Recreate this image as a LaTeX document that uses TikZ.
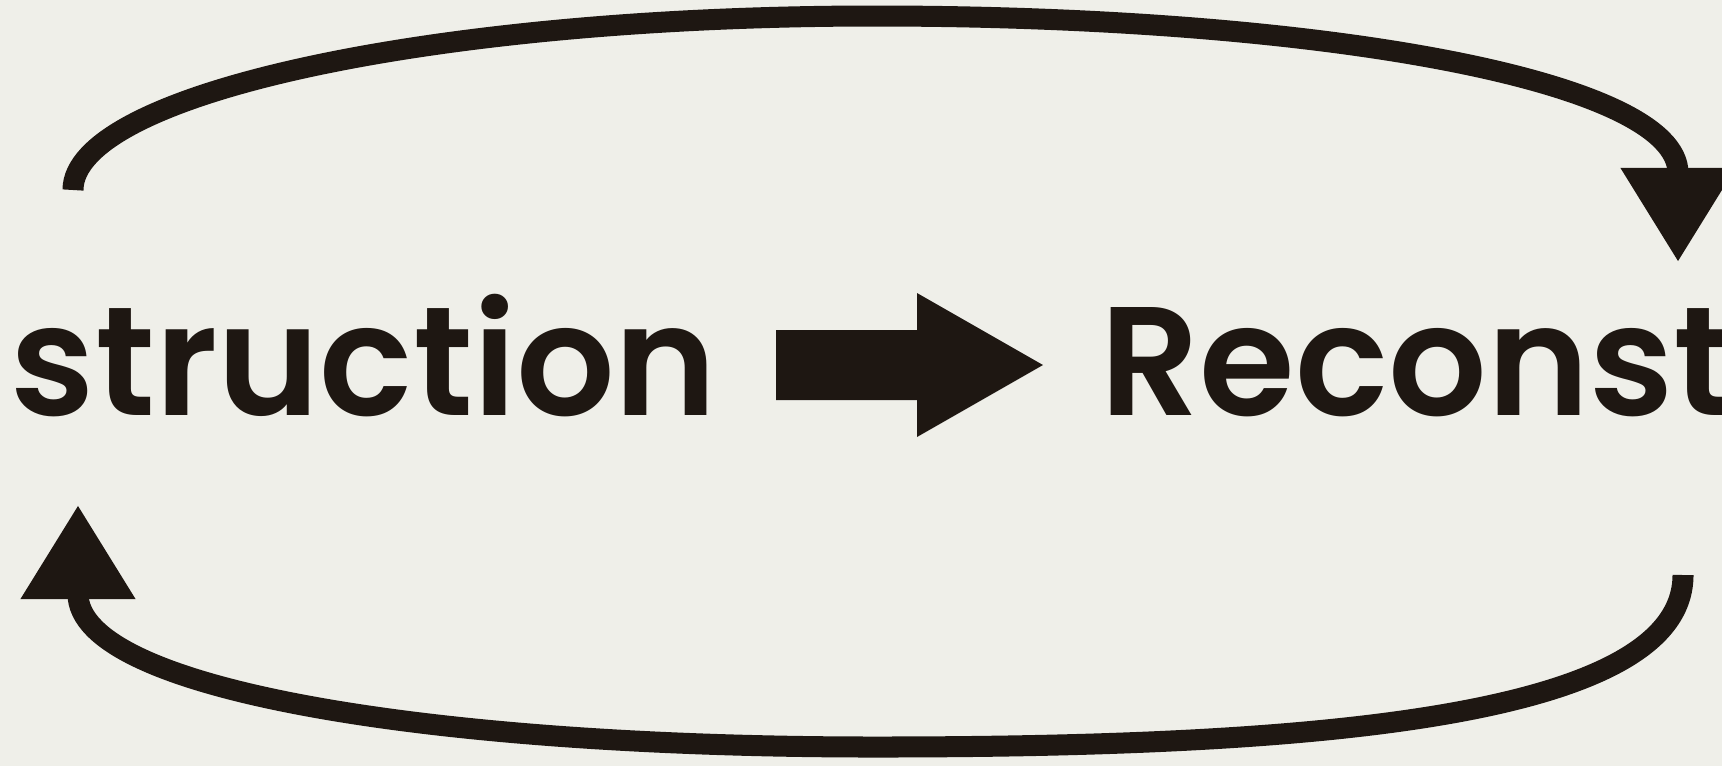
\documentclass[tikz,border=0pt]{standalone}
\usepackage{fontspec}
\setmainfont{Poppins}
\newfontfamily\wordfont{Poppins SemiBold}
\usepackage{tikz}
\usetikzlibrary{arrows.meta, calc}
\definecolor{paper}{RGB}{239, 239, 233}
\definecolor{ink}{RGB}{30, 23, 18}

\begin{document}
\begin{tikzpicture}[x=0.01cm, y=-0.01cm, font=\wordfont\fontsize{44}{50}\selectfont,
    >={Triangle[width=1.09cm, length=0.94cm]}]
  \useasboundingbox (0,0) rectangle (1722,766);
  \clip (0,0) rectangle (1722,766);
  \fill[paper] (0,0) rectangle (1722,766);
  % the two words
  \node[ink, inner sep=0, anchor=base west] (destr) at (10,415) {struction};
  \node[ink, inner sep=0, anchor=base west] (recon) at (1100,415) {Reconst};
  % block arrow between them
  \fill[ink] (776,330) -- (917,330) -- (917,293) -- (1043,365)
        -- (917,437) -- (917,400) -- (776,400) -- cycle;
  % the loop round both words
  \coordinate (topstart) at (73,190);
  \coordinate (topend) at (1678,262);
  \coordinate (botstart) at (1683,575);
  \coordinate (botend) at (78,505);
  \draw[->, ink, line width=0.21cm] (topstart)
        .. controls (73,94) and (432,16) .. (875,16)
        .. controls (1318,16) and (1678,80) .. (topend);
  \draw[->, ink, line width=0.21cm] (botstart)
        .. controls (1683,720) and (1300,747) .. (875,747)
        .. controls (432,747) and (78,690) .. (botend);
\end{tikzpicture}
\end{document}
